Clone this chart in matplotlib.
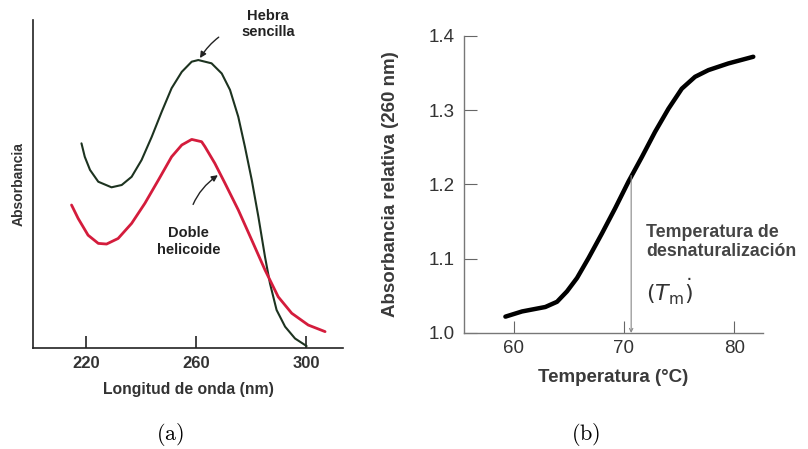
import numpy as np
import matplotlib.pyplot as plt

# (a) Espectro de absorción: longitud de onda (nm) vs absorbancia (unidades arbitrarias)
wl_single = [218.4, 219.6, 221.5, 224.5, 229.3, 233.0, 236.6, 240.2, 243.9, 247.5,
             251.1, 254.8, 258.4, 260.8, 265.6, 269.3, 272.3, 275.3, 277.7, 280.2,
             282.6, 285.0, 286.8, 289.2, 292.3, 295.9, 300.1]
abs_single = [0.624, 0.583, 0.543, 0.507, 0.490, 0.497, 0.522, 0.573, 0.644, 0.720,
              0.792, 0.842, 0.873, 0.878, 0.868, 0.837, 0.787, 0.705, 0.614, 0.512,
              0.400, 0.278, 0.197, 0.116, 0.065, 0.029, 0.006]

wl_double = [214.8, 217.2, 220.8, 224.5, 227.5, 231.7, 236.6, 241.4, 246.3, 251.1,
             254.8, 258.4, 262.0, 263.2, 266.8, 270.5, 275.3, 280.2, 285.0, 289.8,
             294.7, 300.7, 306.8]
abs_double = [0.436, 0.395, 0.344, 0.319, 0.317, 0.334, 0.380, 0.441, 0.512, 0.583,
              0.619, 0.636, 0.629, 0.614, 0.563, 0.502, 0.421, 0.329, 0.238, 0.156,
              0.106, 0.070, 0.050]

wl_ticks = [220, 260, 300]

# (b) Curva de desnaturalización: temperatura (°C) vs absorbancia relativa
temp = [59.25, 60.76, 62.87, 63.93, 64.83, 65.74, 66.79, 68.00, 69.20, 70.41,
        71.62, 72.82, 74.03, 75.24, 76.44, 77.65, 79.46, 81.72]
abs_rel = [1.022, 1.029, 1.035, 1.042, 1.056, 1.074, 1.101, 1.134, 1.168, 1.204,
           1.237, 1.271, 1.302, 1.329, 1.345, 1.354, 1.363, 1.372]
Tm = 70.65
Tm_abs = 1.212

temp_ticks = [60, 70, 80]
abs_ticks = [1.0, 1.1, 1.2, 1.3, 1.4]

plt.rcParams['font.family'] = ['Liberation Sans', 'DejaVu Sans']

fig = plt.figure(figsize=(8.08, 4.49), dpi=100)

## Panel (a)
ax1 = fig.add_axes([0.0408, 0.2249, 0.3837, 0.7305])
ax1.plot(wl_single, abs_single, color='#1d3320', lw=1.5,
         solid_capstyle='round', solid_joinstyle='round')
ax1.plot(wl_double, abs_double, color='#d41c3c', lw=2.0,
         solid_capstyle='round', solid_joinstyle='round')
ax1.set_xlim(200.8, 313.3)
ax1.set_ylim(0, 1.0)
ax1.spines[['top', 'right']].set_visible(False)
for s in ['left', 'bottom']:
    ax1.spines[s].set_linewidth(1.2)
    ax1.spines[s].set_color('#222222')
ax1.set_xticks(wl_ticks)
ax1.set_xticklabels([str(t) for t in wl_ticks], fontsize=12, fontweight='bold', color='#333333')
ax1.set_yticks([])
ax1.tick_params(axis='x', direction='in', length=9, width=1.2, pad=6, color='#222222')
ax1.set_xlabel('Longitud de onda (nm)', fontsize=11.3, fontweight='bold', color='#333333', labelpad=8)
ax1.set_ylabel('Absorbancia', fontsize=10, fontweight='bold', color='#333333', labelpad=5)

ax1.annotate('Hebra\nsencilla', xy=(261.4, 0.884), xytext=(286.1, 0.988),
             ha='center', va='center', fontsize=10.5, fontweight='bold', color='#222222',
             annotation_clip=False, linespacing=1.25,
             arrowprops=dict(arrowstyle='-|>', color='#222222', lw=1.0,
                             shrinkA=16, shrinkB=0, mutation_scale=9,
                             connectionstyle='arc3,rad=0.3'))
ax1.annotate('Doble\nhelicoide', xy=(267.9, 0.527), xytext=(257.3, 0.325),
             ha='center', va='center', fontsize=10.5, fontweight='bold', color='#222222',
             linespacing=1.25,
             arrowprops=dict(arrowstyle='-|>', color='#222222', lw=1.0,
                             shrinkA=14, shrinkB=0, mutation_scale=9,
                             connectionstyle='arc3,rad=-0.3'))

## Panel (b)
ax2 = fig.add_axes([0.5743, 0.2584, 0.3700, 0.6615])
ax2.plot(temp, abs_rel, color='black', lw=3.2, solid_capstyle='round', solid_joinstyle='round')
ax2.set_xlim(55.5, 82.6)
ax2.set_ylim(1.0, 1.4)
ax2.spines[['top', 'right']].set_visible(False)
for s in ['left', 'bottom']:
    ax2.spines[s].set_linewidth(1.0)
    ax2.spines[s].set_color('#777777')
ax2.set_xticks(temp_ticks)
ax2.set_yticks(abs_ticks)
ax2.set_yticklabels([f'{v:.1f}' for v in abs_ticks])
ax2.tick_params(direction='in', length=9, width=0.8, color='#666666',
                labelsize=13.5, labelcolor='#333333')
ax2.tick_params(axis='y', pad=7)
ax2.tick_params(axis='x', pad=5)
ax2.set_xlabel('Temperatura (°C)', fontsize=13.5, fontweight='bold', color='#3a3a3a', labelpad=9)
ax2.set_ylabel('Absorbancia relativa (260 nm)', fontsize=13.5, fontweight='bold', color='#3a3a3a', labelpad=21)

ax2.annotate('', xy=(Tm, 1.0), xytext=(Tm, Tm_abs),
             arrowprops=dict(arrowstyle='->', color='#888888', lw=0.8,
                             shrinkA=0, shrinkB=0, mutation_scale=6))
ax2.text(72.0, 1.122, 'Temperatura de\ndesnaturalización', fontsize=12.8, fontweight='bold',
         color='#444444', ha='left', va='center', linespacing=1.15, clip_on=False)
ax2.text(72.0, 1.055, r'$(T_{\mathrm{m}}\dot{)}$', fontsize=16, color='#333333',
         ha='left', va='center', math_fontfamily='dejavusans', clip_on=False)

## Captions
fig.text(170 / 808, 1 - 434 / 449, r'$\mathrm{(a)}$', fontsize=16, ha='center', va='center',
         math_fontfamily='cm')
fig.text(586 / 808, 1 - 434 / 449, r'$\mathrm{(b)}$', fontsize=16, ha='center', va='center',
         math_fontfamily='cm')

fig.savefig('out.png', dpi=100)
